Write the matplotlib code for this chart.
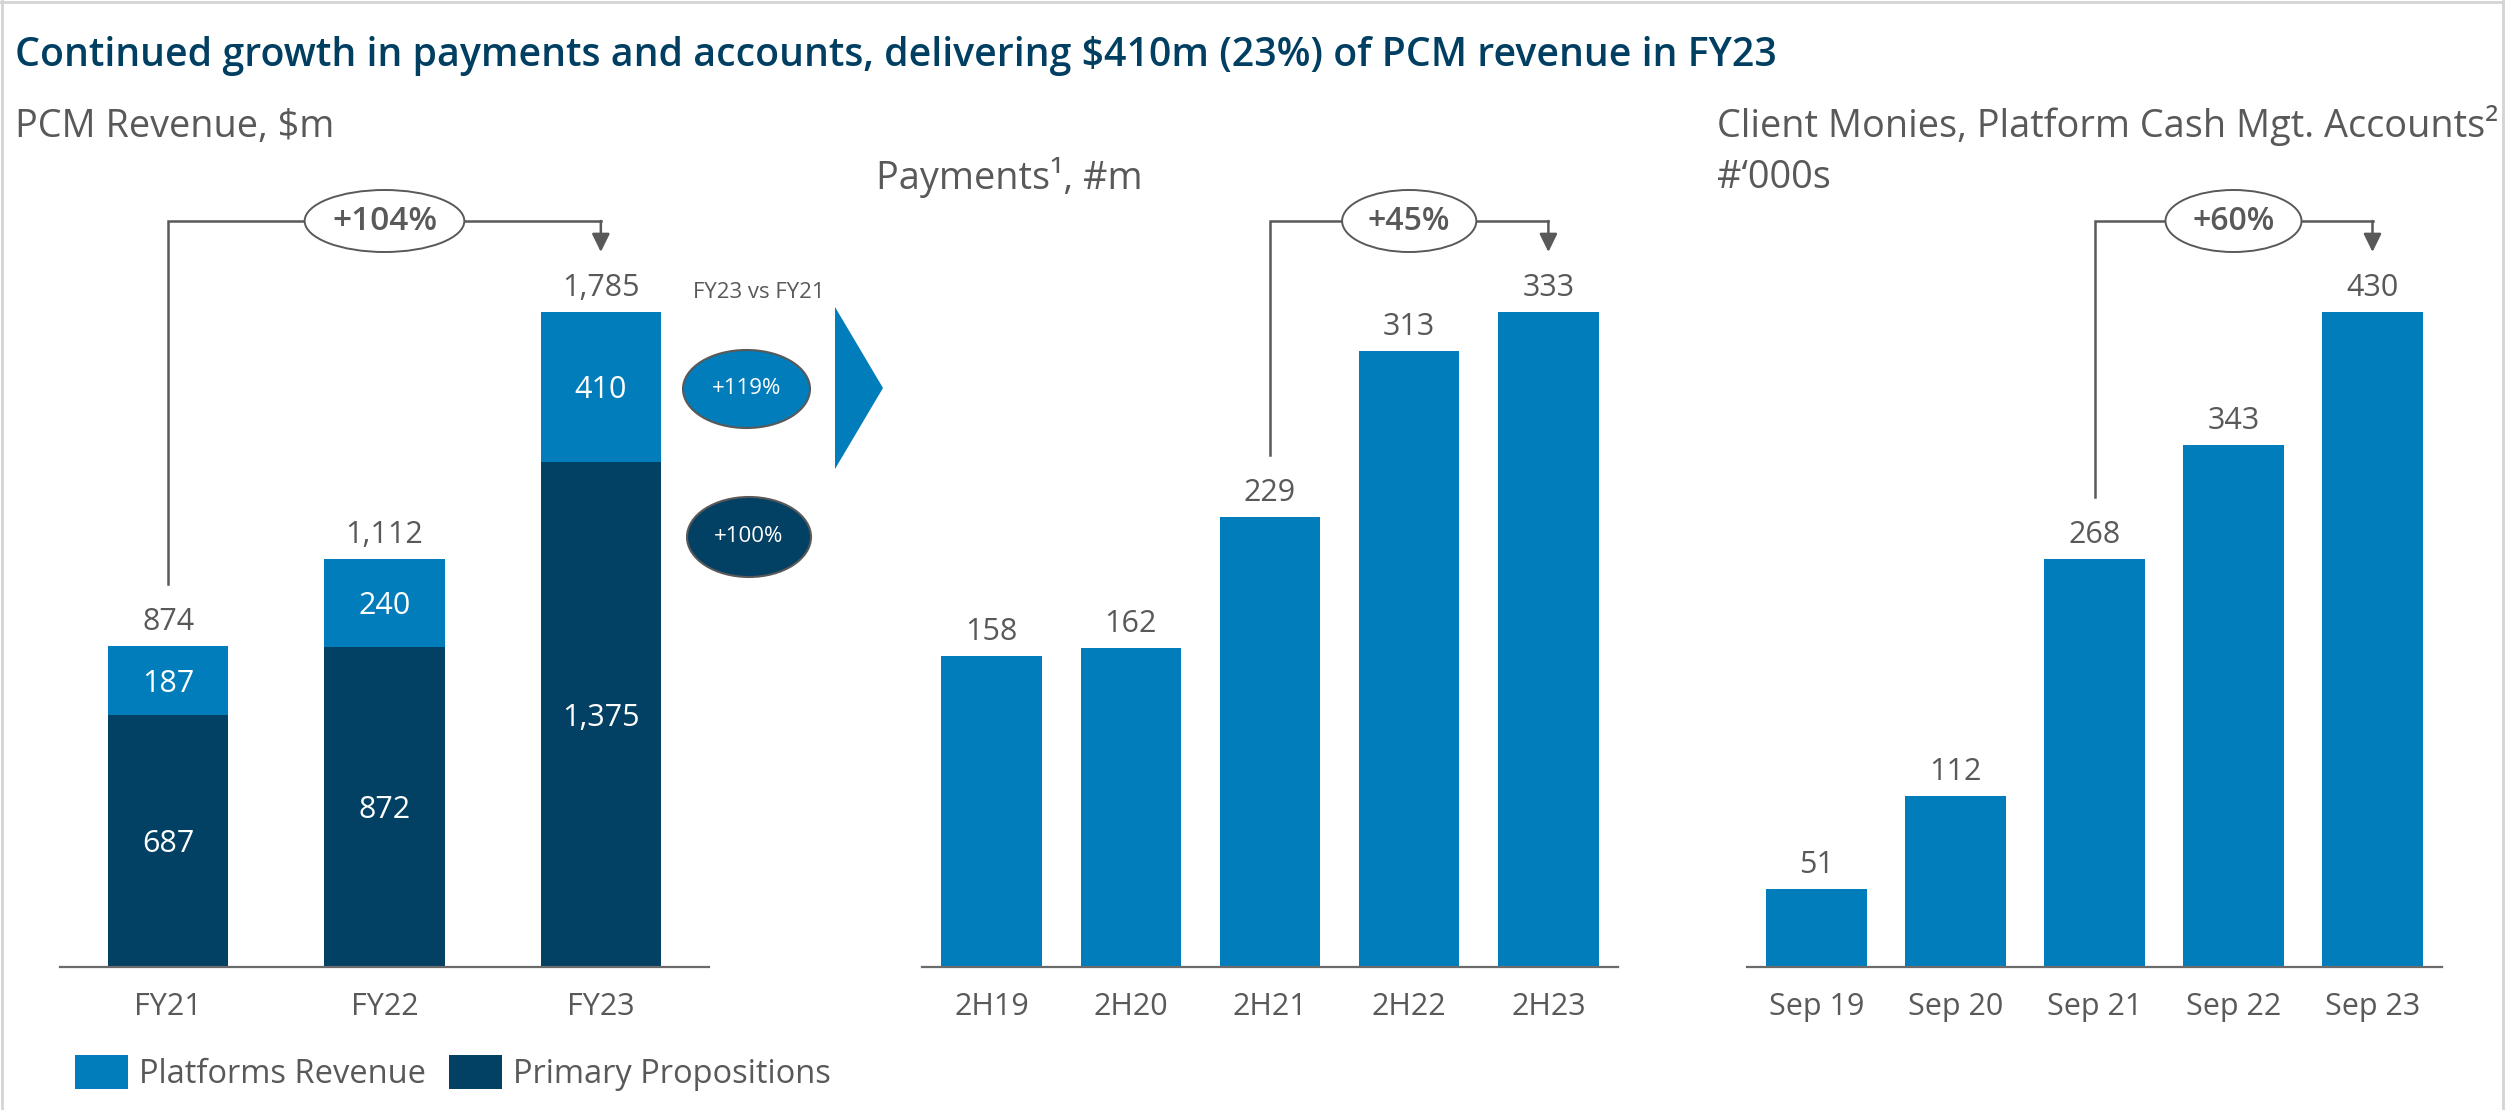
import matplotlib
matplotlib.use("Agg")
import matplotlib.pyplot as plt
from matplotlib.patches import Ellipse, Polygon
from matplotlib.lines import Line2D
from matplotlib.transforms import blended_transform_factory

plt.rcParams["font.family"] = ["Open Sans", "DejaVu Sans"]

# data
fy_labels = ["FY21", "FY22", "FY23"]
primary = [687, 872, 1375]
platforms = [187, 240, 410]
pcm_total = [874, 1112, 1785]

pay_labels = ["2H19", "2H20", "2H21", "2H22", "2H23"]
payments = [158, 162, 229, 313, 333]

acc_labels = ["Sep 19", "Sep 20", "Sep 21", "Sep 22", "Sep 23"]
accounts = [51, 112, 268, 343, 430]

LIGHT = "#007DBA"
DARK = "#024064"
GREY = "#595959"
NAVY = "#003F62"

W, H = 2512, 1110
fig = plt.figure(figsize=(W / 100, H / 100), dpi=100)


def px_rect(x0, y0, x1, y1):
    return [x0 / W, 1 - y1 / H, (x1 - x0) / W, (y1 - y0) / H]


def fpt(x, y):
    return (x / W, 1 - y / H)


TOP, BASE, BAR_PX = 150, 967, 655
AX_PX = BASE - TOP


def setup(ax, labels, nmax):
    ax.set_xlim(-0.5, len(labels) - 0.5)
    ax.set_ylim(0, nmax * AX_PX / BAR_PX)
    for s in ["top", "right", "left"]:
        ax.spines[s].set_visible(False)
    ax.spines["bottom"].set_color("#6b6b6b")
    ax.spines["bottom"].set_linewidth(1.6)
    ax.set_yticks([])
    ax.set_xticks(range(len(labels)))
    ax.set_xticklabels(labels, fontsize=22, color=GREY)
    ax.tick_params(axis="x", length=0, pad=18)


def value_labels(ax, vals):
    k = ax.get_ylim()[1] / AX_PX
    for i, v in enumerate(vals):
        ax.text(i, v + 16 * k, f"{v:,}", ha="center", va="baseline",
                fontsize=22, color=GREY)


def bracket(ax, i0, i1, vals, text, ell_w_px, step_px, fs):
    tr = blended_transform_factory(ax.transData, ax.transAxes)
    ymax = ax.get_ylim()[1]
    yb = (BASE - 221) / AX_PX
    tip = (BASE - 252) / AX_PX
    yend = vals[i0] / ymax + 62 / AX_PX
    ax.plot([i0, i0, i1], [yend, yb, yb], color=GREY, lw=1.8,
            transform=tr, clip_on=False, solid_joinstyle="miter")
    ax.annotate("", xy=(i1, tip), xytext=(i1, yb), xycoords=tr,
                textcoords=tr, annotation_clip=False,
                arrowprops=dict(arrowstyle="-|>,head_length=0.55,head_width=0.27",
                                color=GREY, lw=1.8, shrinkA=0, shrinkB=0,
                                mutation_scale=20))
    xc = (i0 + i1) / 2
    ax.add_patch(Ellipse((xc, yb), ell_w_px / step_px, 62 / AX_PX,
                         transform=tr, fc="white", ec=GREY, lw=1.4,
                         zorder=4, clip_on=False))
    ax.text(xc, yb, text, transform=tr, ha="center", va="center",
            fontsize=fs, fontweight="semibold", color=GREY, zorder=5)


# panel 1: PCM revenue (stacked)
ax1 = fig.add_axes(px_rect(60, TOP, 709, BASE))
setup(ax1, fy_labels, max(pcm_total))
x1 = range(len(fy_labels))
b_dark = ax1.bar(x1, primary, width=0.555, color=DARK, label="Primary Propositions")
b_light = ax1.bar(x1, platforms, bottom=primary, width=0.555, color=LIGHT,
                  label="Platforms Revenue")
k1 = ax1.get_ylim()[1] / AX_PX
for i in x1:
    ax1.text(i, primary[i] / 2 - 11 * k1, f"{primary[i]:,}", ha="center",
             va="baseline", fontsize=22, color="white")
    ax1.text(i, primary[i] + platforms[i] / 2 - 11 * k1, f"{platforms[i]:,}",
             ha="center", va="baseline", fontsize=22, color="white")
value_labels(ax1, pcm_total)
bracket(ax1, 0, 2, pcm_total, "+104%", 160, 216.75, 24)

# panel 2: payments
ax2 = fig.add_axes(px_rect(922, TOP, 1618, BASE))
setup(ax2, pay_labels, max(payments))
ax2.bar(range(len(payments)), payments, width=0.72, color=LIGHT)
value_labels(ax2, payments)
bracket(ax2, 2, 4, payments, "+45%", 134, 139, 23)

# panel 3: accounts
ax3 = fig.add_axes(px_rect(1747, TOP, 2442, BASE))
setup(ax3, acc_labels, max(accounts))
ax3.bar(range(len(accounts)), accounts, width=0.72, color=LIGHT)
value_labels(ax3, accounts)
bracket(ax3, 2, 4, accounts, "+60%", 136, 139, 23)

# FY23 vs FY21 callout
fig.text(*fpt(759, 292), "FY23 vs FY21", ha="center", va="center",
         fontsize=16, color=GREY)
fig.add_artist(Ellipse(fpt(746.5, 389), 127 / W, 78 / H, transform=fig.transFigure,
                       fc=LIGHT, ec=GREY, lw=1.5))
fig.text(*fpt(746.5, 389), "+119%", ha="center", va="center", fontsize=16,
         color="white")
fig.add_artist(Ellipse(fpt(749, 537), 124 / W, 80 / H, transform=fig.transFigure,
                       fc=DARK, ec=GREY, lw=1.5))
fig.text(*fpt(749, 537), "+100%", ha="center", va="center", fontsize=16,
         color="white")
fig.add_artist(Polygon([fpt(835, 307), fpt(883, 388), fpt(835, 469)], closed=True,
                       transform=fig.transFigure, color=LIGHT, lw=0))

# titles
renderer = fig.canvas.get_renderer()


def fit(t, width_px):
    w = t.get_window_extent(renderer).width
    t.set_fontsize(t.get_fontsize() * width_px / w)


title = fig.text(*fpt(15, 56),
                 "Continued growth in payments and accounts, delivering $410m (23%) "
                 "of PCM revenue in FY23",
                 ha="left", va="center", fontsize=30, fontweight="semibold", color=NAVY)
fit(title, 1758)

sub3 = fig.text(*fpt(1717, 125), "Client Monies, Platform Cash Mgt. Accounts\u00b2",
                ha="left", va="center", fontsize=25, color=GREY)
fit(sub3, 782)
fs = sub3.get_fontsize()
fig.text(*fpt(15, 127), "PCM Revenue, $m", ha="left", va="center",
         fontsize=fs, color=GREY)
fig.text(*fpt(876, 178), "Payments\u00b9, #m", ha="left", va="center",
         fontsize=fs, color=GREY)
fig.text(*fpt(1717, 178), "#\u2018000s", ha="left", va="center",
         fontsize=fs, color=GREY)

# legend
fig.legend(handles=[b_light, b_dark], loc="center left",
           bbox_to_anchor=fpt(75, 1073), ncol=2, frameon=False,
           fontsize=23.5, labelcolor=GREY, handlelength=1.63, handleheight=1.2,
           handletextpad=0.34, columnspacing=0.7, borderpad=0, borderaxespad=0)

# frame
for xs, ys in [([0, 2503], [2, 2]), ([2, 2], [0, H]), ([2503, 2503], [0, H])]:
    fig.add_artist(Line2D([x / W for x in xs], [1 - y / H for y in ys],
                          transform=fig.transFigure, color="#d4d4d4", lw=2))

fig.savefig("out.png", dpi=100)
